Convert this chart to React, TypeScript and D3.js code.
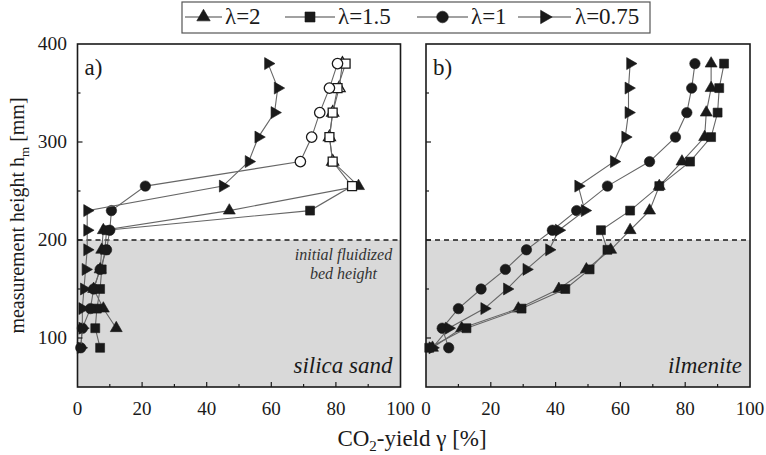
import React from "react";
import * as d3 from "d3";

// measurement heights h_m [mm]
const heights = [90, 110, 130, 150, 170, 190, 210, 230, 255, 280, 305, 330, 355, 380];

// a) silica sand, CO2-yield [%]
const sandL2 = [null, 12, 8, 5, 7, 7.5, 8, 47, 87, 79, 78, 79, 81, 82];
const sandL15 = [7, 5.5, 6, 7, 7.5, 8.5, 9, 72, 85, 79, 78, 79, 80.5, 83];
const sandL1 = [1, 1.5, 4, 5, 7, 9, 10, 10.5, 21, 69, 72.5, 75, 78, 80.5];
const sandL075 = [1, 1.5, 1.5, 2, 2.5, 3, 3, 3, 45, 53, 56, 61, 62, 59];
// hollow markers from this height up (null = always filled)
const sandOpenFrom = [280, 255, 280, null];

// b) ilmenite
const ilmL2 = [2, 11, 28.5, 41, 49.5, 57, 63, 69, 72, 79, 86, 86.5, 88, 88];
const ilmL15 = [1, 12.5, 29.5, 43, 50.5, 56, 54, 63, 72, 81.5, 88, 90, 90.5, 92];
const ilmL1 = [7, 5, 10, 17, 24.5, 31, 39, 46.5, 56, 69, 77, 80.5, 82, 83];
const ilmL075 = [2, 7, 18, 25, 31, 38, 41, 49, 47, 58, 61.5, 62.5, 62.5, 63];

const seriesNames = ["λ=2", "λ=1.5", "λ=1", "λ=0.75"];
const markerKinds = ["up", "square", "circle", "right"];

const xTicks = [0, 20, 40, 60, 80, 100];
const yTicks = [100, 200, 300, 400];

const W = 766;
const H = 455;
const top = 44;
const bottom = 387;
const font = "Liberation Serif, Times New Roman, serif";
const ink = "#1a1a1a";

const y = d3.scaleLinear().domain([50, 400]).range([bottom, top]);

const symbolPath = (kind: string, big = false) => {
  const k = big ? 1.25 : 1;
  if (kind === "up") return d3.symbol(d3.symbolTriangle, 62 * k)();
  if (kind === "square") return d3.symbol(d3.symbolSquare, 80 * k)();
  if (kind === "circle") return d3.symbol(d3.symbolCircle, 85 * k)();
  return d3.symbol(d3.symbolTriangle, 62 * k)();
};

const Marker = ({ kind, cx, cy, open, big }: any) => (
  <path
    d={symbolPath(kind, big) as string}
    transform={`translate(${cx},${cy})${kind === "right" ? " rotate(90)" : ""}`}
    fill={open ? "#fff" : ink}
    stroke={ink}
    strokeWidth={open ? 1.3 : 0.6}
  />
);

const Panel = ({ x0, x1, series, openFrom, tag, material, note }: any) => {
  const x = d3.scaleLinear().domain([0, 100]).range([x0, x1]);
  const line = d3
    .line<any>()
    .x((d) => x(d.v))
    .y((d) => y(d.h));
  const minorX = d3.range(10, 100, 20);
  const minorY = [150, 250, 350];
  return (
    <g>
      <rect x={x0} y={y(200)} width={x1 - x0} height={bottom - y(200)} fill="#d9d9d9" />
      <line x1={x0} x2={x1} y1={y(200)} y2={y(200)} stroke={ink} strokeWidth={1.4} strokeDasharray="5,4" />
      {series.map((vals: any[], si: number) => {
        const pts = heights.map((h, i) => ({ h, v: vals[i] })).filter((d) => d.v != null);
        return (
          <g key={si}>
            <path d={line(pts) as string} fill="none" stroke="#666" strokeWidth={1.1} />
            {pts.map((d, i) => (
              <Marker
                key={i}
                kind={markerKinds[si]}
                cx={x(d.v)}
                cy={y(d.h)}
                open={openFrom && openFrom[si] != null && d.h >= openFrom[si]}
              />
            ))}
          </g>
        );
      })}
      {xTicks.slice(1, -1).map((t) => (
        <line key={t} x1={x(t)} x2={x(t)} y1={bottom} y2={bottom - 5} stroke={ink} strokeWidth={1.2} />
      ))}
      {minorX.map((t) => (
        <line key={t} x1={x(t)} x2={x(t)} y1={bottom} y2={bottom - 3} stroke={ink} strokeWidth={1.2} />
      ))}
      {yTicks.slice(0, -1).map((t) => (
        <line key={t} x1={x0} x2={x0 + 5} y1={y(t)} y2={y(t)} stroke={ink} strokeWidth={1.2} />
      ))}
      {minorY.map((t) => (
        <line key={t} x1={x0} x2={x0 + 3} y1={y(t)} y2={y(t)} stroke={ink} strokeWidth={1.2} />
      ))}
      <rect x={x0} y={top} width={x1 - x0} height={bottom - top} fill="none" stroke={ink} strokeWidth={1.6} />
      {xTicks.map((t) => (
        <text key={t} x={x(t)} y={415} textAnchor="middle" fontSize={19} fill={ink}>
          {t}
        </text>
      ))}
      <text x={x0 + 7} y={top + 31} fontSize={23} fill={ink}>
        {tag}
      </text>
      <text x={x1 - 8} y={bottom - 14} textAnchor="end" fontSize={23} fontStyle="italic" fill={ink}>
        {material}
      </text>
      {note && (
        <g fontSize={16} fontStyle="italic" fill="#333" textAnchor="middle">
          <text x={x1 - 57} y={y(200) + 20}>initial fluidized</text>
          <text x={x1 - 57} y={y(200) + 39}>bed height</text>
        </g>
      )}
    </g>
  );
};

const Legend = () => {
  const items = [
    { l0: 185, l1: 222, t: 225 },
    { l0: 285, l1: 335, t: 338 },
    { l0: 417, l1: 468, t: 471 },
    { l0: 518, l1: 571, t: 575 },
  ];
  const cy = 17;
  return (
    <g>
      <rect x={182} y={2} width={468} height={31} fill="#fff" stroke="#555" strokeWidth={1.2} />
      {items.map((it, i) => (
        <g key={i}>
          <line x1={it.l0} x2={it.l1} y1={cy} y2={cy} stroke="#444" strokeWidth={1.2} />
          <Marker kind={markerKinds[i]} cx={(it.l0 + it.l1) / 2} cy={cy} open={false} big />
          <text x={it.t} y={cy + 7} fontSize={23} fill={ink}>
            {seriesNames[i]}
          </text>
        </g>
      ))}
    </g>
  );
};

export default function App() {
  return (
    <svg
      width={W}
      height={H}
      fontFamily={font}
      style={{ position: "absolute", left: 0, top: 0, background: "#fff" }}
    >
      <Legend />
      {yTicks.map((t) => (
        <text key={t} x={67} y={y(t) + 6} textAnchor="end" fontSize={19.5} fill={ink}>
          {t}
        </text>
      ))}
      <Panel
        x0={77.5}
        x1={400.5}
        series={[sandL2, sandL15, sandL1, sandL075]}
        openFrom={sandOpenFrom}
        tag="a)"
        material="silica sand"
        note
      />
      <Panel x0={426} x1={750} series={[ilmL2, ilmL15, ilmL1, ilmL075]} openFrom={null} tag="b)" material="ilmenite" />
      <text
        transform={`translate(24,${(top + bottom) / 2}) rotate(-90)`}
        textAnchor="middle"
        fontSize={20}
        fill={ink}
      >
        measurement height h
        <tspan fontSize={13} dy={5}>m</tspan>
        <tspan dy={-5}> [mm]</tspan>
      </text>
      <text x={412} y={446} textAnchor="middle" fontSize={23} fill={ink}>
        CO
        <tspan fontSize={15} dy={5}>2</tspan>
        <tspan dy={-5}>-yield γ [%]</tspan>
      </text>
    </svg>
  );
}
